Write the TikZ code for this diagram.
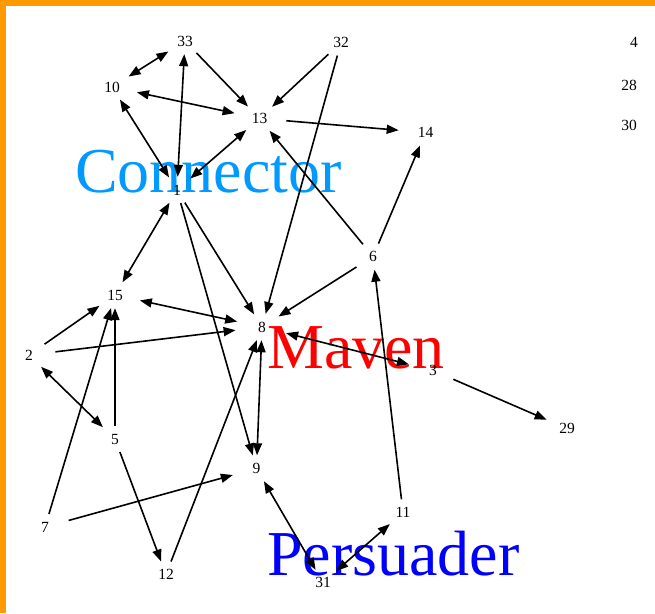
\documentclass[tikz,border=0pt]{standalone}
\usepackage{fontspec}
\setmainfont{Liberation Serif}
\usetikzlibrary{arrows.meta,shapes.geometric}
\definecolor{frameorange}{RGB}{255,153,0}
\definecolor{connblue}{RGB}{0,153,255}
\begin{document}
\begin{tikzpicture}[x=1pt,y=-1pt,
  vtx/.style={ellipse,minimum width=54pt,minimum height=26pt,inner sep=0pt,font=\fontsize{15.5}{16}\selectfont},
  edge/.style={line width=1.6pt,-{Triangle[length=12pt,width=9pt]}},
  bi/.style={line width=1.6pt,{Triangle[length=12pt,width=9pt]}-{Triangle[length=12pt,width=9pt]}},
  biglabel/.style={anchor=base west,inner sep=0pt,font=\fontsize{64}{64}\selectfont}]
\useasboundingbox (0,0) rectangle (655,613);
\fill[white] (0,0) rectangle (655,613);
\fill[frameorange] (0,0) rectangle (655,6);
\fill[frameorange] (0,0) rectangle (6,613);

\node[biglabel,text=connblue] (lconn) at (75,192) {Connector};
\node[biglabel,text=red] (lmaven) at (267,368) {Maven};
\node[biglabel,text=blue] (lpers) at (267,575) {Persuader};

\node[vtx] (n33) at (185,41) {33};
\node[vtx] (n32) at (341,42.5) {32};
\node[vtx] (n4) at (634,42.5) {4};
\node[vtx] (n10) at (112,87) {10};
\node[vtx] (n28) at (629,85) {28};
\node[vtx] (n13) at (259.5,118.5) {13};
\node[vtx] (n30) at (629,125) {30};
\node[vtx] (n14) at (425.5,132.5) {14};
\node[vtx] (n1) at (177,190) {1};
\node[vtx] (n6) at (373,256.5) {6};
\node[vtx] (n15) at (115,295) {15};
\node[vtx] (n8) at (262,327) {8};
\node[vtx] (n2) at (29,355) {2};
\node[vtx] (n3) at (433,370.5) {3};
\node[vtx] (n29) at (567,428.5) {29};
\node[vtx] (n5) at (115,439) {5};
\node[vtx] (n9) at (256.5,468.5) {9};
\node[vtx] (n7) at (45,527) {7};
\node[vtx] (n11) at (403,512.5) {11};
\node[vtx] (n12) at (166,574.5) {12};
\node[vtx] (n31) at (323,582.5) {31};

\draw[bi] (n33) -- (n10);
\draw[edge] (n33) -- (n13);
\draw[edge] (n32) -- (n13);
\draw[edge] (n32) -- (n8);
\draw[bi] (n10) -- (n13);
\draw[bi] (n10) -- (n1);
\draw[bi] (n33) -- (n1);
\draw[bi] (n13) -- (n1);
\draw[edge] (n13) -- (n14);
\draw[edge] (n6) -- (n13);
\draw[edge] (n6) -- (n14);
\draw[edge] (n6) -- (n8);
\draw[bi] (n1) -- (n15);
\draw[edge] (n1) -- (n8);
\draw[edge] (n1) -- (n9);
\draw[bi] (n15) -- (n8);
\draw[edge] (n2) -- (n15);
\draw[edge] (n2) -- (n8);
\draw[bi] (n2) -- (n5);
\draw[edge] (n5) -- (n15);
\draw[edge] (n7) -- (n15);
\draw[edge] (n5) -- (n12);
\draw[edge] (n7) -- (n9);
\draw[edge] (n12) -- (n8);
\draw[bi] (n8) -- (n9);
\draw[bi] (n8) -- (n3);
\draw[edge] (n3) -- (n29);
\draw[edge] (n11) -- (n6);
\draw[bi] (n11) -- (n31);
\draw[bi] (n9) -- (n31);
\end{tikzpicture}
\end{document}
